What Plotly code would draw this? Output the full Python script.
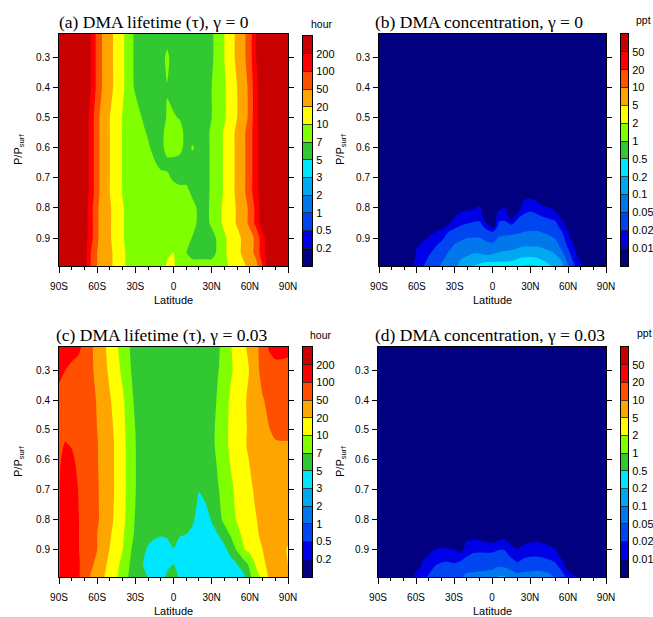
import numpy as np
import plotly.graph_objects as go

W, H = 653, 617

# ---------------- axes / legend data ----------------
LAT = [-90, -85, -80, -75, -70, -65, -60, -55, -50, -45, -40, -35, -30, -25, -20, -15, -10, -5, 0,
       5, 10, 15, 20, 25, 30, 35, 40, 45, 50, 55, 60, 65, 70, 75, 80, 85, 90]
LAT_TICKS = [-90, -60, -30, 0, 30, 60, 90]
LAT_TICK_TEXT = ["90S", "60S", "30S", "0", "30N", "60N", "90N"]
P_TICKS = [0.3, 0.4, 0.5, 0.6, 0.7, 0.8, 0.9]
P_TICK_TEXT = ["0.3", "0.4", "0.5", "0.6", "0.7", "0.8", "0.9"]

LIFETIME_LEVELS = [0.2, 0.5, 1, 2, 3, 5, 7, 10, 20, 50, 100, 200]
LIFETIME_LABELS = ["0.2", "0.5", "1", "2", "3", "5", "7", "10", "20", "50", "100", "200"]
CONC_LEVELS = [0.01, 0.02, 0.05, 0.1, 0.2, 0.5, 1, 2, 5, 10, 20, 50]
CONC_LABELS = ["0.01", "0.02", "0.05", "0.1", "0.2", "0.5", "1", "2", "5", "10", "20", "50"]
BAND_COLORS = ["#000080", "#0000e6", "#0046f0", "#0078ec", "#00a8f0", "#00e6ff", "#32c832",
               "#80ff00", "#ffff00", "#ffa500", "#ff5000", "#ff0000", "#c80000"]

# ---------------- (a) DMA lifetime, gamma = 0  [hour] ----------------
P_TAU_A = [0.22, 0.3, 0.4, 0.5, 0.55, 0.6, 0.65, 0.7, 0.75, 0.8, 0.85, 0.9, 0.95, 0.993]
TAU_GAMMA0 = [
    [300, 300, 300, 300, 300, 200, 80, 41, 25.5, 16.5, 11.2, 8.4, 6.5, 6, 6, 6, 6, 6, 6, 6, 6, 6, 6, 6, 6.65, 8.2, 10, 15.5, 24.3, 39.2, 73.5, 200, 300, 300, 300, 300, 300],
    [300, 300, 300, 300, 300, 200, 80, 41, 25.5, 16.5, 11.2, 8.4, 6.5, 6, 6, 6, 6, 7.6, 6, 6, 6, 6, 6, 6, 6.65, 8.2, 10, 15.5, 24.3, 39.2, 73.5, 200, 300, 300, 300, 300, 300],
    [300, 300, 300, 300, 300, 200, 80, 41, 25.5, 16.5, 11.2, 8.4, 6.65, 6, 6, 6, 6, 6.9, 6, 6, 6, 6, 6, 6, 7, 8.2, 9.6, 13.6, 20, 33.3, 59.5, 174, 300, 300, 300, 300, 300],
    [300, 300, 300, 300, 300, 159, 59.5, 33.4, 20, 13.9, 9.8, 7.9, 8.4, 7, 6, 6, 6, 7.2, 7.3, 6.8, 6, 6, 6, 6, 7, 8.2, 9.6, 13.6, 20, 33.3, 59.5, 174, 300, 300, 300, 300, 300],
    [300, 300, 300, 300, 300, 159, 59.5, 33.4, 20, 13.9, 9.8, 7.9, 8.4, 8, 6.6, 6, 6, 8.4, 8.4, 8.4, 6, 6, 6, 6, 7.64, 8.75, 10.8, 15.9, 24.4, 40.8, 73, 164, 300, 300, 300, 300, 300],
    [300, 300, 300, 300, 300, 159, 59.5, 33.4, 20, 13.9, 9.8, 7.9, 8.4, 8.4, 7.6, 6, 6, 8.4, 8.4, 8, 6, 7.3, 6, 6, 7.64, 8.75, 10.8, 15.9, 24.4, 40.8, 73, 164, 300, 300, 300, 300, 300],
    [300, 300, 300, 300, 300, 159, 59.5, 33.4, 20, 13.9, 9.8, 7.9, 8.4, 8.4, 8.4, 7.3, 6, 6.3, 6.3, 6, 6, 6, 6, 6, 7.64, 8.75, 10.8, 15.9, 24.4, 40.8, 73, 164, 300, 300, 300, 300, 300],
    [300, 300, 300, 300, 300, 159, 59.5, 33.4, 20, 13.9, 9.8, 7.9, 8.4, 8.4, 8.4, 8.4, 8.4, 7.6, 6.6, 6, 6, 6, 6, 6, 7.64, 8.75, 10.8, 15.9, 24.4, 40.8, 73, 164, 300, 300, 300, 300, 300],
    [300, 300, 300, 300, 300, 159, 59.5, 33.4, 20, 13.9, 9.8, 7.9, 8.4, 8.4, 8.4, 8.4, 8.4, 8.4, 8.4, 8.4, 8.4, 6.26, 6, 6, 7.64, 8.75, 10.8, 15.9, 24.4, 40.8, 73, 164, 300, 300, 300, 300, 300],
    [300, 300, 300, 300, 300, 132, 54, 33.7, 21.9, 15.2, 10.7, 8.7, 8.4, 8.4, 8.4, 8.4, 8.4, 8.4, 8.4, 8.4, 8.4, 8.4, 6.26, 6, 7.87, 9.1, 11.3, 15.6, 21.9, 34.7, 57.4, 126, 300, 300, 300, 300, 300],
    [300, 300, 300, 300, 300, 132, 54, 33.7, 21.9, 15.2, 10.7, 8.7, 8.4, 8.4, 8.4, 8.4, 8.4, 8.4, 8.4, 8.4, 8.4, 8.4, 6.26, 6, 7.6, 9.1, 11.3, 15.6, 21.9, 34.7, 57.4, 126, 300, 300, 300, 300, 300],
    [300, 300, 300, 300, 300, 132, 54, 33.7, 21.9, 15.2, 10.7, 8.7, 8.4, 8.4, 8.4, 8.4, 8.4, 8.4, 8.4, 8.4, 8.4, 6.8, 6, 6, 6, 7.64, 9.5, 12.6, 16.8, 23.6, 35.6, 59.5, 159, 300, 300, 300, 300],
    [300, 300, 300, 300, 300, 100, 50, 34, 23.5, 16.6, 12.1, 8.7, 8.4, 8.4, 8.4, 8.4, 8.4, 9.5, 10.2, 8.4, 7.1, 6, 6, 6, 6, 7.64, 9.5, 12.6, 16.8, 23.6, 35.6, 59.5, 159, 300, 300, 300, 300],
    [300, 300, 300, 300, 300, 100, 50, 34, 23.5, 16.6, 12.1, 8.7, 8.4, 8.4, 8.4, 8.4, 8.4, 11, 11, 8.4, 8.4, 8.4, 8.4, 8.4, 8.4, 8.4, 9.2, 11, 14.1, 18.1, 25.6, 39, 100, 300, 300, 300, 300],
]

# ---------------- (c) DMA lifetime, gamma = 0.03  [hour] ----------------
P_TAU_C = [0.22, 0.3, 0.4, 0.5, 0.55, 0.6, 0.7, 0.75, 0.8, 0.85, 0.9, 0.95, 0.993]
TAU_GAMMA003 = [
    [141, 141, 130, 120, 85, 55.7, 37, 23.8, 16, 11, 8.7, 7.15, 6, 6, 6, 6, 6, 6, 6, 6, 6, 6, 6, 6, 6, 6.7, 7.87, 9.85, 13.1, 17.6, 26, 41.5, 66, 107, 130, 130, 120],
    [120, 100, 86, 74, 64, 55, 41.5, 26.3, 17.5, 12.6, 9.3, 7.6, 6, 6, 6, 6, 6, 6, 6, 6, 6, 6, 6, 6, 6, 6.9, 7.96, 9.6, 12.3, 15.9, 21, 34, 70, 75, 80, 80, 80],
    [80, 80, 80, 75, 70, 60, 47.2, 31.6, 21.5, 15.4, 11.1, 8.4, 6.5, 6, 6, 6, 6, 6, 6, 6, 6, 6, 6, 6, 6, 7.4, 8.8, 11, 14, 18, 24, 33, 45.5, 62, 70, 70, 70],
    [80, 85, 95, 85, 75, 62, 50, 34.2, 24.6, 17.3, 12, 8.75, 7, 6, 6, 6, 6, 6, 6, 6, 6, 6, 6, 6, 6.5, 7.64, 9.1, 11.3, 14.2, 17.9, 22.7, 28.9, 37.4, 47.7, 57.4, 62, 62],
    [85, 105, 95, 85, 75, 62, 52, 36, 25.8, 18.1, 12.5, 8.9, 7.1, 6, 6, 6, 6, 6, 6, 6, 6, 6, 6, 6, 6.5, 7.64, 9.1, 11.3, 14.2, 17.9, 24, 32, 38, 42, 45, 45, 45],
    [90, 130, 115, 85, 75, 62, 52, 36, 25.8, 18.1, 12.5, 8.9, 7.1, 6, 6, 6, 6, 6, 6, 6, 6, 6, 6, 6, 6.4, 7.3, 8.6, 10.7, 13.3, 16.5, 21, 30, 35, 38, 40, 40, 38],
    [95, 150, 150, 100, 75, 62, 53.5, 38, 26.3, 18.1, 12.3, 9, 7.1, 6, 6, 6, 6, 6, 6, 6, 6, 6, 5.1, 6, 6, 6.9, 7.6, 9.3, 11.8, 14.6, 18, 23, 30, 35, 35, 35, 35],
    [95, 150, 150, 102, 75, 62, 54, 38, 25.5, 17.7, 12.2, 8.9, 7, 6, 6, 6, 6, 6, 6, 6, 6, 6, 4.3, 4.8, 6, 6.6, 7.8, 9.2, 11.2, 13.8, 17, 21.4, 27, 32, 32, 32, 32],
    [95, 150, 150, 105, 75, 62, 54, 38, 24.6, 17.3, 12, 8.75, 6.8, 6, 6, 6, 6, 6, 6, 6, 6, 5.3, 4, 4.2, 5.1, 6, 7.8, 8.75, 10.6, 13, 16, 19.6, 25, 30, 30, 30, 30],
    [95, 150, 150, 105, 75, 60, 50, 34, 22, 15.5, 11, 8.4, 6.6, 6, 6, 5.3, 5.1, 5.2, 5.8, 5.1, 5, 4.4, 4, 4, 4.4, 5, 5.8, 7.3, 9.1, 11.5, 14.4, 18.3, 24, 30, 30, 30, 30],
    [95, 150, 150, 105, 75, 60, 50, 31, 19.5, 14.1, 10.2, 7.8, 6, 6, 4.5, 4.2, 4.2, 4.3, 4.9, 4.3, 4, 4, 4, 4, 4, 4, 4.5, 5.6, 7.4, 9.7, 12.4, 15.8, 20, 26, 30, 30, 18],
    [95, 150, 150, 110, 78, 57.4, 39, 24.8, 17, 12.2, 9, 7.17, 6, 5.2, 4, 4, 4, 4.5, 5, 4.3, 4, 4, 4, 4, 4, 4, 4, 4.2, 5, 6, 7.5, 10.9, 16.8, 26, 30, 30, 20],
    [95, 150, 150, 110, 70, 45.5, 31, 21, 15, 10.9, 8.4, 6.8, 6, 6, 4.9, 4, 4, 5.3, 5.8, 4.6, 4, 4, 4, 4, 4, 4, 4, 4, 4, 4.4, 6.6, 8.8, 12.1, 21.9, 28, 30, 30],
]

B = 0.005  # background concentration (below lowest level) [ppt]

# ---------------- (b) DMA concentration, gamma = 0  [ppt]  (one vertical profile per latitude) ----------------
P_DMA_B = [0.22, 0.74, 0.76, 0.78, 0.8, 0.82, 0.84, 0.86, 0.88, 0.9, 0.92, 0.94, 0.96, 0.98, 0.993]
DMA_GAMMA0_PROFILES = [
    [B, B, B, B, B, B, B, B, B, B, B, B, B, B, B],  # 90S
    [B, B, B, B, B, B, B, B, B, B, B, B, B, B, B],
    [B, B, B, B, B, B, B, B, B, B, B, B, B, B, B],
    [B, B, B, B, B, B, B, B, B, B, B, B, B, B, B],
    [B, B, B, B, B, B, B, B, B, B, B, B, B, B, B],
    [B, B, B, B, B, B, B, B, B, B, B, B, B, 0.006, 0.009],  # 65S
    [B, B, B, B, B, B, B, B, B, B, 0.0084, 0.0109, 0.0121, 0.0136, 0.0145],
    [B, B, B, B, B, B, B, B, B, 0.0084, 0.0113, 0.0131, 0.0153, 0.0178, 0.0197],
    [B, B, B, B, B, B, B, B, 0.0071, 0.0111, 0.0138, 0.0171, 0.0209, 0.0253, 0.0289],
    [B, B, B, B, B, B, B, 0.0054, 0.0103, 0.0139, 0.0185, 0.0232, 0.0281, 0.0341, 0.0384],
    [B, B, B, B, B, B, B, 0.0076, 0.0125, 0.0182, 0.024, 0.0308, 0.0376, 0.05, 0.0558],
    [B, B, B, B, B, B, 0.006, 0.0115, 0.02, 0.0265, 0.0348, 0.0466, 0.0574, 0.0692, 0.0779],
    [B, B, B, B, B, 0.0081, 0.0126, 0.0175, 0.0247, 0.0348, 0.05, 0.0583, 0.0678, 0.0796, 0.0877],
    [B, B, B, B, 0.0071, 0.0116, 0.0155, 0.0207, 0.0299, 0.0431, 0.0571, 0.0717, 0.0895, 0.1094, 0.1223],
    [B, B, B, B, 0.0084, 0.0125, 0.0167, 0.0234, 0.0341, 0.05, 0.0629, 0.0796, 0.1, 0.132, 0.158],
    [B, B, B, B, 0.009, 0.0132, 0.0182, 0.0256, 0.0364, 0.0514, 0.066, 0.0847, 0.114, 0.166, 0.204],
    [B, B, B, 0.0076, 0.0116, 0.0147, 0.0188, 0.0256, 0.0362, 0.05, 0.0642, 0.083, 0.114, 0.19, 0.221],
    [B, B, B, B, B, B, 0.0071, 0.0159, 0.0271, 0.0406, 0.0579, 0.0774, 0.1064, 0.201, 0.225],
    [B, B, B, B, B, B, B, 0.006, 0.02, 0.0337, 0.0543, 0.0763, 0.113, 0.204, 0.229],  # 0
    [B, B, B, B, 0.0084, 0.013, 0.0184, 0.0261, 0.0371, 0.0525, 0.0674, 0.0865, 0.126, 0.207, 0.233],
    [B, B, B, B, 0.0101, 0.0139, 0.019, 0.0278, 0.0402, 0.0566, 0.0732, 0.094, 0.141, 0.21, 0.235],
    [B, B, B, B, B, B, 0.009, 0.0256, 0.0415, 0.059, 0.0763, 0.0986, 0.153, 0.215, 0.242],
    [B, B, B, B, 0.006, 0.0126, 0.0237, 0.0328, 0.0449, 0.0603, 0.0807, 0.111, 0.167, 0.276, 0.405],
    [B, B, 0.0076, 0.0117, 0.0154, 0.0201, 0.0271, 0.0369, 0.0502, 0.066, 0.0871, 0.121, 0.178, 0.359, 0.536],
    [B, B, 0.0081, 0.0125, 0.0171, 0.0229, 0.0303, 0.0393, 0.0525, 0.0678, 0.0877, 0.122, 0.184, 0.39, 0.551],
    [B, B, 0.006, 0.0108, 0.0147, 0.0201, 0.0278, 0.0385, 0.0525, 0.0678, 0.0877, 0.12, 0.173, 0.331, 0.521],
    [B, B, B, 0.0071, 0.012, 0.0173, 0.0245, 0.0344, 0.0481, 0.0633, 0.0824, 0.109, 0.155, 0.227, 0.319],
    [B, B, B, B, 0.0101, 0.0148, 0.0218, 0.0302, 0.0423, 0.0571, 0.0748, 0.0973, 0.134, 0.184, 0.215],
    [B, B, B, B, 0.0078, 0.0129, 0.0192, 0.0261, 0.0346, 0.0465, 0.0616, 0.0812, 0.108, 0.147, 0.179],
    [B, B, B, B, B, B, 0.0101, 0.0148, 0.0213, 0.0278, 0.0347, 0.0473, 0.0707, 0.107, 0.128],
    [B, B, B, B, B, B, B, 0.006, 0.0106, 0.0134, 0.0168, 0.0215, 0.0293, 0.0398, 0.0486],
    [B, B, B, B, B, B, B, B, B, B, 0.0084, 0.0117, 0.0145, 0.018, 0.0209],
    [B, B, B, B, B, B, B, B, B, B, B, B, 0.006, 0.0104, 0.0113],
    [B, B, B, B, B, B, B, B, B, B, B, B, B, B, 0.0076],
    [B, B, B, B, B, B, B, B, B, B, B, B, B, B, B],
    [B, B, B, B, B, B, B, B, B, B, B, B, B, B, B],
    [B, B, B, B, B, B, B, B, B, B, B, B, B, B, B],  # 90N
]

# ---------------- (d) DMA concentration, gamma = 0.03  [ppt]  (one vertical profile per latitude) ----------------
P_DMA_D = [0.22, 0.84, 0.86, 0.88, 0.9, 0.92, 0.94, 0.96, 0.98, 0.993]
DMA_GAMMA003_PROFILES = [
    [B, B, B, B, B, B, B, B, B, B],  # 90S
    [B, B, B, B, B, B, B, B, B, B],
    [B, B, B, B, B, B, B, B, B, B],
    [B, B, B, B, B, B, B, B, B, B],
    [B, B, B, B, B, B, B, B, B, B],
    [B, B, B, B, B, B, B, B, B, 0.0078],  # 65S
    [B, B, B, B, B, B, B, 0.0071, 0.011, 0.0126],
    [B, B, B, B, B, B, 0.0101, 0.0117, 0.0136, 0.015],
    [B, B, B, B, 0.006, 0.0105, 0.0128, 0.0156, 0.019, 0.0226],
    [B, B, B, 0.0057, 0.0105, 0.0133, 0.0168, 0.0215, 0.029, 0.0354],
    [B, B, B, 0.0066, 0.0111, 0.0144, 0.0188, 0.0251, 0.034, 0.0416],
    [B, B, B, 0.0062, 0.0109, 0.0146, 0.0195, 0.0263, 0.0355, 0.0437],
    [B, B, B, 0.0055, 0.0104, 0.0139, 0.0184, 0.0246, 0.0337, 0.0409],
    [B, B, B, B, 0.0071, 0.0126, 0.0201, 0.0271, 0.0369, 0.0449],
    [B, B, 0.0076, 0.0116, 0.0147, 0.0188, 0.0256, 0.0362, 0.0501, 0.0574],
    [B, B, 0.0081, 0.0123, 0.0167, 0.0223, 0.0294, 0.0394, 0.0518, 0.0603],
    [B, B, 0.0081, 0.0126, 0.0173, 0.0234, 0.0313, 0.0409, 0.0536, 0.0624],
    [B, B, 0.0066, 0.0116, 0.0169, 0.0234, 0.0315, 0.0419, 0.0547, 0.0637],
    [B, B, B, 0.0102, 0.0165, 0.024, 0.0319, 0.0436, 0.0574, 0.0669],  # 0
    [B, B, 0.0076, 0.0127, 0.0192, 0.0265, 0.0365, 0.0501, 0.0796, 0.107],
    [B, B, 0.0087, 0.0134, 0.0193, 0.0263, 0.0355, 0.0486, 0.0807, 0.107],
    [B, B, B, 0.009, 0.013, 0.0177, 0.0263, 0.0416, 0.0574, 0.0669],
    [B, B, B, 0.0055, 0.0104, 0.0139, 0.0187, 0.0301, 0.051, 0.0595],
    [B, B, B, 0.009, 0.0127, 0.017, 0.024, 0.0365, 0.0528, 0.0616],
    [B, B, 0.0057, 0.0106, 0.014, 0.0187, 0.0265, 0.0375, 0.0543, 0.0629],
    [B, B, 0.0071, 0.0113, 0.0146, 0.0188, 0.0271, 0.0402, 0.0555, 0.0646],
    [B, B, 0.0055, 0.0104, 0.0137, 0.0179, 0.0256, 0.0384, 0.0543, 0.0629],
    [B, B, B, 0.0084, 0.0123, 0.0162, 0.0221, 0.0334, 0.0501, 0.0583],
    [B, B, B, 0.006, 0.0107, 0.0142, 0.0189, 0.0261, 0.0362, 0.0449],
    [B, B, B, B, B, 0.0071, 0.0119, 0.0168, 0.0234, 0.0284],
    [B, B, B, B, B, B, B, 0.0071, 0.0126, 0.017],
    [B, B, B, B, B, B, B, B, 0.0076, 0.0119],
    [B, B, B, B, B, B, B, B, B, 0.0066],
    [B, B, B, B, B, B, B, B, B, B],
    [B, B, B, B, B, B, B, B, B, B],
    [B, B, B, B, B, B, B, B, B, B],
    [B, B, B, B, B, B, B, B, B, B],  # 90N
]


# ---------------- helpers ----------------
def to_band(values, levels):
    """Map values onto the (log-spaced, irregular) contour-level index space."""
    v = np.log(np.asarray(values, dtype=float))
    lg = np.log(np.asarray(levels, dtype=float))
    n = len(levels)
    idx = np.interp(v, lg, np.arange(1, n + 1, dtype=float))
    lo = v < lg[0]
    idx[lo] = 1 + (v[lo] - lg[0]) / (lg[1] - lg[0])
    hi = v > lg[-1]
    idx[hi] = n + (v[hi] - lg[-1]) / (lg[-1] - lg[-2])
    return np.clip(idx, 0.05, n + 0.95)


def fx(px):
    return px / W


def fy(py):
    return 1 - py / H


nb = len(BAND_COLORS)
SCALE = [[j / (nb - 1), c] for j, c in enumerate(BAND_COLORS)]

SANS = "Liberation Sans, Arial, Helvetica, sans-serif"
SERIF = "Liberation Serif, Times New Roman, serif"

panels = [
    dict(z=np.asarray(TAU_GAMMA0), p=P_TAU_A, levels=LIFETIME_LEVELS, labels=LIFETIME_LABELS,
         box=(59, 288, 34, 266), cb=(303, 312, 36, 266),
         title="(a) DMA lifetime (\u03c4), \u03b3 = 0", tpos=(57, 22), unit="hour", upos=(322, 24),
         ylab_x=19, xlab_y=300),
    dict(z=np.asarray(DMA_GAMMA0_PROFILES).T, p=P_DMA_B, levels=CONC_LEVELS, labels=CONC_LABELS,
         box=(379, 606, 34, 266), cb=(621, 628, 34, 266),
         title="(b) DMA concentration, \u03b3 = 0", tpos=(373, 22), unit="ppt", upos=(643, 20),
         ylab_x=341, xlab_y=300),
    dict(z=np.asarray(TAU_GAMMA003), p=P_TAU_C, levels=LIFETIME_LEVELS, labels=LIFETIME_LABELS,
         box=(59, 288, 347, 577), cb=(303, 312, 347, 577),
         title="(c) DMA lifetime (\u03c4), \u03b3 = 0.03", tpos=(54, 335), unit="hour", upos=(321, 335),
         ylab_x=19, xlab_y=611),
    dict(z=np.asarray(DMA_GAMMA003_PROFILES).T, p=P_DMA_D, levels=CONC_LEVELS, labels=CONC_LABELS,
         box=(378, 606, 347, 577), cb=(621, 628, 347, 577),
         title="(d) DMA concentration, \u03b3 = 0.03", tpos=(373, 335), unit="ppt", upos=(644, 333),
         ylab_x=341, xlab_y=611),
]

fig = go.Figure()
layout = dict(template="none", width=W, height=H, margin=dict(l=0, r=0, t=0, b=0, pad=0),
              autosize=False, paper_bgcolor="white", plot_bgcolor="white", showlegend=False,
              font=dict(family=SANS, color="black"))
annotations = []


def ax_names(n):
    return ("xaxis" if n == 1 else f"xaxis{n}", "yaxis" if n == 1 else f"yaxis{n}",
            "x" if n == 1 else f"x{n}", "y" if n == 1 else f"y{n}")


for i, pn in enumerate(panels):
    n_main = i + 1
    n_cb = i + 5
    xa, ya, xr, yr = ax_names(n_main)
    cxa, cya, cxr, cyr = ax_names(n_cb)
    nlev = len(pn["levels"])

    band = to_band(pn["z"], pn["levels"])
    fig.add_trace(go.Contour(
        x=LAT, y=pn["p"], z=band, xaxis=xr, yaxis=yr,
        autocontour=False,
        contours=dict(start=1, end=nlev, size=1, coloring="fill", showlines=False),
        colorscale=SCALE, showscale=False, line=dict(width=0, smoothing=0.7),
        hoverinfo="skip"))

    x0, x1, y0, y1 = pn["box"]
    layout[xa] = dict(domain=[fx(x0), fx(x1)], anchor=yr, range=[-90, 90], autorange=False,
                      automargin=False,
                      tickmode="array", tickvals=LAT_TICKS, ticktext=LAT_TICK_TEXT,
                      ticks="outside", ticklen=6, tickwidth=1, tickcolor="black",
                      minor=dict(tickmode="linear", tick0=-90, dtick=10, ticks="outside",
                                 ticklen=3, tickwidth=1, tickcolor="black", showgrid=False),
                      showline=True, linecolor="black", linewidth=1, mirror=True,
                      showgrid=False, zeroline=False, tickfont=dict(size=10, family=SANS),
                      ticklabelstandoff=5, fixedrange=True)
    layout[ya] = dict(domain=[fy(y1), fy(y0)], anchor=xr, range=[0.993, 0.222], autorange=False,
                      automargin=False,
                      tickmode="array", tickvals=P_TICKS, ticktext=P_TICK_TEXT,
                      ticks="outside", ticklen=5, tickwidth=1, tickcolor="black",
                      showline=True, linecolor="black", linewidth=1, mirror="ticks",
                      showgrid=False, zeroline=False, tickfont=dict(size=10, family=SANS),
                      ticklabelstandoff=1, fixedrange=True)

    # label bar
    cx0, cx1, cy0, cy1 = pn["cb"]
    fig.add_trace(go.Heatmap(
        z=[[j] for j in range(nlev + 1)], x=[0.5], y=[j + 0.5 for j in range(nlev + 1)],
        colorscale=SCALE, zmin=0, zmax=nlev, showscale=False, hoverinfo="skip",
        xaxis=cxr, yaxis=cyr))
    layout[cxa] = dict(domain=[fx(cx0), fx(cx1)], anchor=cyr, range=[0, 1], autorange=False,
                       automargin=False,
                       showticklabels=False, ticks="", showgrid=False, zeroline=False,
                       showline=True, linecolor="black", linewidth=1, mirror=True, fixedrange=True)
    layout[cya] = dict(domain=[fy(cy1), fy(cy0)], anchor=cxr, range=[0, nlev + 1], autorange=False,
                       automargin=False,
                       side="right", tickmode="array", tickvals=list(range(1, nlev + 1)),
                       ticktext=pn["labels"], ticks="inside", ticklen=cx1 - cx0, tickwidth=0.8,
                       tickcolor="#202020", showline=True, linecolor="black", linewidth=1,
                       mirror=True, showgrid=False, zeroline=False,
                       tickfont=dict(size=11, family=SANS), ticklabelstandoff=1, fixedrange=True)

    # texts
    annotations.append(dict(text=pn["title"], x=fx(pn["tpos"][0]), y=fy(pn["tpos"][1]),
                            xref="paper", yref="paper", xanchor="left", yanchor="middle",
                            showarrow=False, font=dict(family=SERIF, size=17.5, color="black")))
    annotations.append(dict(text=pn["unit"], x=fx(pn["upos"][0]), y=fy(pn["upos"][1]),
                            xref="paper", yref="paper", xanchor="center", yanchor="middle",
                            showarrow=False, font=dict(family=SANS, size=10.5, color="black")))
    annotations.append(dict(text="P/P<sub>surf</sub>", x=fx(pn["ylab_x"]), y=fy((y0 + y1) / 2),
                            xref="paper", yref="paper", xanchor="center", yanchor="middle",
                            textangle=-90, showarrow=False,
                            font=dict(family=SANS, size=11, color="black")))
    annotations.append(dict(text="Latitude", x=fx((x0 + x1) / 2), y=fy(pn["xlab_y"]),
                            xref="paper", yref="paper", xanchor="center", yanchor="middle",
                            showarrow=False, font=dict(family=SANS, size=11, color="black")))

layout["annotations"] = annotations
fig.update_layout(**layout)
fig.write_html("out.html", config={"staticPlot": True},
               post_script="document.body.style.margin='0px';document.body.style.overflow='hidden';")
